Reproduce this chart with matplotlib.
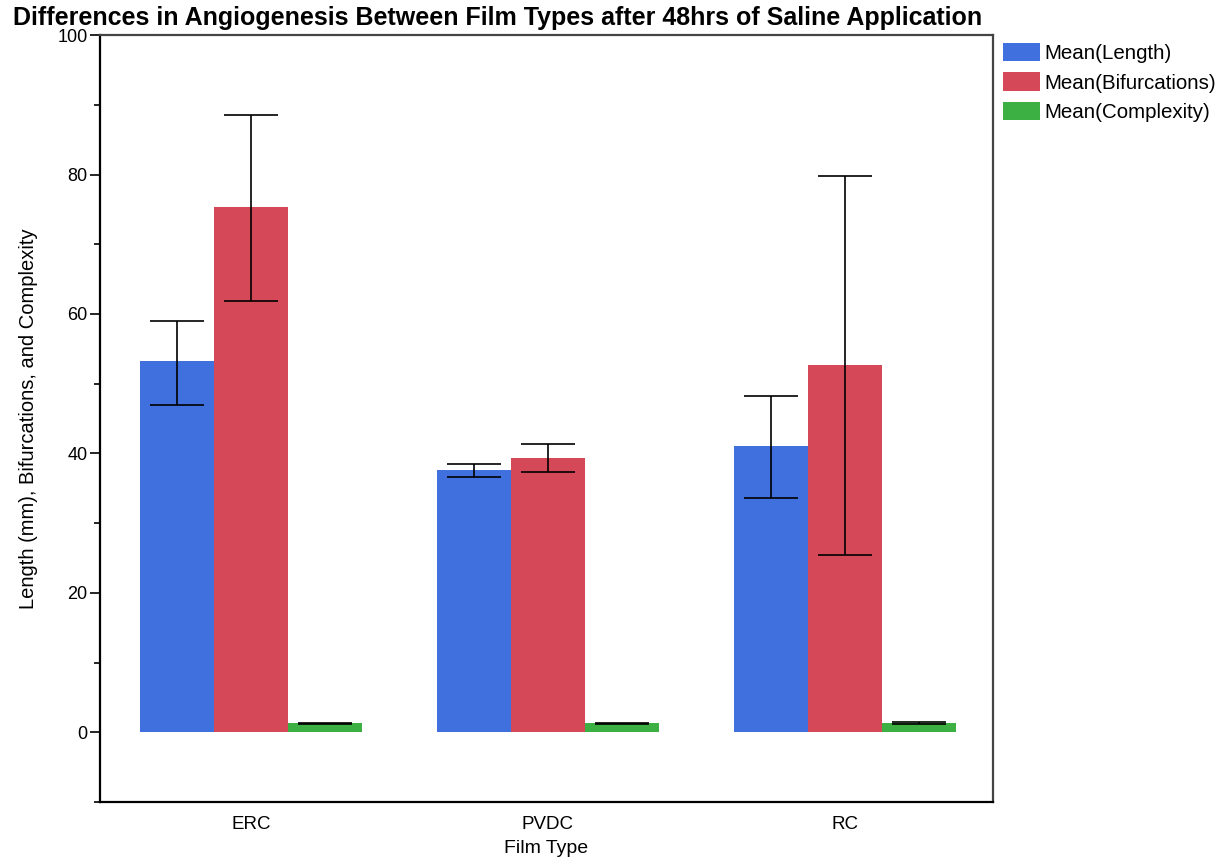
import matplotlib
matplotlib.use("Agg")
import matplotlib.pyplot as plt
import numpy as np
from matplotlib.ticker import MultipleLocator

plt.rcParams["font.family"] = ["Liberation Sans", "DejaVu Sans"]

# values
films = ["ERC", "PVDC", "RC"]
series = ["Mean(Length)", "Mean(Bifurcations)", "Mean(Complexity)"]
colors = ["#4070dd", "#d54858", "#3cb043"]

length_mean = [53.2, 37.6, 41.0]
length_lo = [46.9, 36.6, 33.6]
length_hi = [59.0, 38.5, 48.3]

bif_mean = [75.4, 39.3, 52.7]
bif_lo = [61.8, 37.3, 25.4]
bif_hi = [88.6, 41.3, 79.8]

cplx_mean = [1.3, 1.3, 1.3]
cplx_lo = [1.25, 1.25, 1.2]
cplx_hi = [1.35, 1.35, 1.4]

means = [length_mean, bif_mean, cplx_mean]
lows = [length_lo, bif_lo, cplx_lo]
highs = [length_hi, bif_hi, cplx_hi]

fig = plt.figure(figsize=(12.29, 8.59), dpi=100)
ax = fig.add_axes([0.0814, 0.0664, 0.7266, 0.8927])

x = np.arange(len(films))
width = 0.249
for k in range(3):
    pos = x + (k - 1) * width
    m = np.array(means[k])
    err = np.vstack([m - np.array(lows[k]), np.array(highs[k]) - m])
    ax.bar(pos, m, width=width, color=colors[k], label=series[k],
           edgecolor="none", zorder=2)
    ax.errorbar(pos, m, yerr=err, fmt="none", ecolor="black",
                elinewidth=1.2, capsize=19.5, capthick=1.2, zorder=3)

ax.set_xlim(-0.508, 2.499)
ax.set_ylim(-10, 100)
ax.set_xticks(x)
ax.set_xticklabels(films, fontsize=13.5)
ax.tick_params(axis="x", length=0, pad=10)
ax.yaxis.set_major_locator(MultipleLocator(20))
ax.yaxis.set_minor_locator(MultipleLocator(10))
ax.tick_params(axis="y", which="major", length=7, width=1.2, labelsize=13, pad=2)
ax.tick_params(axis="y", which="minor", length=4, width=1.2)

for side in ["top", "right"]:
    ax.spines[side].set_color("#444444")
    ax.spines[side].set_linewidth(1.6)
for side in ["left", "bottom"]:
    ax.spines[side].set_color("black")
    ax.spines[side].set_linewidth(1.6)

ax.set_xlabel("Film Type", fontsize=14, labelpad=5)
ax.set_ylabel("Length (mm), Bifurcations, and Complexity", fontsize=14.5, labelpad=14)
fig.text(0.0105, 0.979, "Differences in Angiogenesis Between Film Types after 48hrs of Saline Application",
         fontsize=18, fontweight="bold", ha="left", va="center")

leg = ax.legend(loc="upper left", bbox_to_anchor=(1.011, 0.99), frameon=False,
                fontsize=14.8, handlelength=1.8, handleheight=1.0,
                handletextpad=0.22, labelspacing=0.45, borderaxespad=0,
                borderpad=0)

fig.savefig("out.png", dpi=100)
